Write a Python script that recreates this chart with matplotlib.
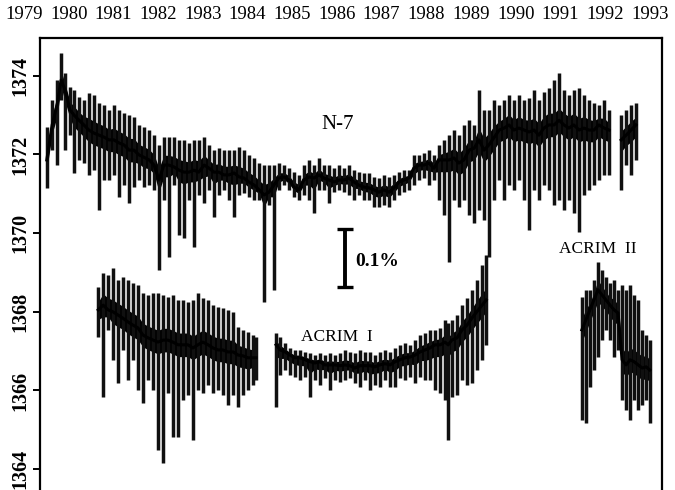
import numpy as np
import matplotlib
matplotlib.use("Agg")
import matplotlib.pyplot as plt
from matplotlib.transforms import blended_transform_factory

plt.rcParams['font.family'] = ['Liberation Serif', 'DejaVu Serif']

# year labels along the top
years = list(range(1979, 1994))
yticks = [1364, 1366, 1368, 1370, 1372, 1374]

# Nimbus-7 (N-7): time, upper noise, running level, lower noise / dropouts
n7_t = [1979.51, 1979.63, 1979.74, 1979.83, 1979.92, 1980.03, 1980.12, 1980.23, 1980.34, 1980.45,
        1980.57, 1980.68, 1980.79, 1980.90, 1981.01, 1981.13, 1981.24, 1981.35, 1981.46, 1981.57,
        1981.68, 1981.80, 1981.91, 1982.02, 1982.13, 1982.24, 1982.36, 1982.47, 1982.58, 1982.69,
        1982.80, 1982.91, 1983.03, 1983.14, 1983.25, 1983.36, 1983.47, 1983.59, 1983.70, 1983.81,
        1983.92, 1984.03, 1984.15, 1984.26, 1984.37, 1984.48, 1984.59, 1984.70, 1984.82, 1984.93,
        1985.04, 1985.15, 1985.26, 1985.38, 1985.49, 1985.60, 1985.71, 1985.82, 1985.94, 1986.05,
        1986.16, 1986.27, 1986.38, 1986.49, 1986.61, 1986.72, 1986.83, 1986.94, 1987.05, 1987.17,
        1987.28, 1987.39, 1987.50, 1987.61, 1987.72, 1987.84, 1987.95, 1988.06, 1988.17, 1988.28,
        1988.40, 1988.51, 1988.62, 1988.73, 1988.84, 1988.96, 1989.07, 1989.18, 1989.29, 1989.40,
        1989.51, 1989.63, 1989.74, 1989.85, 1989.96, 1990.07, 1990.19, 1990.30, 1990.41, 1990.52,
        1990.63, 1990.74, 1990.86, 1990.97, 1991.08, 1991.19, 1991.30, 1991.42, 1991.53, 1991.64,
        1991.75, 1991.86, 1991.98, 1992.09, 1992.36, 1992.47, 1992.58, 1992.69]
n7_hi = [1372.70, 1373.38, 1373.89, 1374.58, 1374.07, 1373.71, 1373.64, 1373.46, 1373.38, 1373.56,
         1373.51, 1373.31, 1373.26, 1373.13, 1373.26, 1373.13, 1373.05, 1373.00, 1372.95, 1372.75,
         1372.70, 1372.62, 1372.49, 1372.24, 1372.44, 1372.44, 1372.44, 1372.37, 1372.37, 1372.29,
         1372.37, 1372.37, 1372.44, 1372.24, 1372.11, 1372.16, 1372.11, 1372.11, 1372.11, 1372.19,
         1372.11, 1371.99, 1371.91, 1371.78, 1371.73, 1371.73, 1371.73, 1371.78, 1371.73, 1371.65,
         1371.55, 1371.48, 1371.73, 1371.86, 1371.73, 1371.91, 1371.73, 1371.73, 1371.65, 1371.73,
         1371.65, 1371.73, 1371.60, 1371.55, 1371.53, 1371.53, 1371.43, 1371.40, 1371.48, 1371.43,
         1371.48, 1371.55, 1371.60, 1371.60, 1371.99, 1371.99, 1372.04, 1372.11, 1371.99, 1372.24,
         1372.37, 1372.49, 1372.62, 1372.49, 1372.75, 1372.87, 1372.75, 1373.64, 1373.13, 1373.13,
         1373.38, 1373.26, 1373.38, 1373.51, 1373.38, 1373.51, 1373.38, 1373.43, 1373.64, 1373.38,
         1373.59, 1373.69, 1373.89, 1374.07, 1373.64, 1373.51, 1373.64, 1373.69, 1373.51, 1373.38,
         1373.31, 1373.26, 1373.38, 1373.13, 1373.00, 1373.13, 1373.26, 1373.31]
n7_mid = [1371.86, 1372.75, 1373.26, 1373.89, 1373.64, 1373.13, 1373.00, 1372.87, 1372.75, 1372.62,
          1372.54, 1372.49, 1372.44, 1372.37, 1372.37, 1372.29, 1372.24, 1372.11, 1372.11, 1371.99,
          1371.93, 1371.86, 1371.73, 1371.35, 1371.73, 1371.73, 1371.68, 1371.60, 1371.55, 1371.55,
          1371.60, 1371.55, 1371.73, 1371.65, 1371.55, 1371.55, 1371.48, 1371.48, 1371.53, 1371.43,
          1371.40, 1371.30, 1371.22, 1371.10, 1370.97, 1371.04, 1371.22, 1371.40, 1371.43, 1371.35,
          1371.17, 1371.10, 1371.35, 1371.43, 1371.40, 1371.48, 1371.40, 1371.35, 1371.30, 1371.35,
          1371.35, 1371.40, 1371.30, 1371.22, 1371.17, 1371.15, 1371.10, 1371.04, 1371.10, 1371.04,
          1371.15, 1371.30, 1371.35, 1371.40, 1371.65, 1371.73, 1371.73, 1371.78, 1371.65, 1371.86,
          1371.86, 1371.86, 1371.91, 1371.78, 1371.86, 1372.11, 1372.16, 1372.37, 1372.11, 1372.24,
          1372.42, 1372.62, 1372.67, 1372.75, 1372.62, 1372.67, 1372.62, 1372.57, 1372.62, 1372.49,
          1372.67, 1372.75, 1372.75, 1372.87, 1372.75, 1372.67, 1372.75, 1372.62, 1372.67, 1372.62,
          1372.62, 1372.75, 1372.67, 1372.62, 1372.37, 1372.49, 1372.62, 1372.75]
n7_lo = [1371.15, 1372.11, 1371.73, 1373.38, 1372.11, 1372.49, 1371.53, 1371.86, 1371.78, 1371.48,
         1371.60, 1370.59, 1371.35, 1371.35, 1371.48, 1370.92, 1371.22, 1370.76, 1371.17, 1371.35,
         1371.17, 1371.22, 1371.10, 1369.06, 1370.84, 1369.40, 1371.22, 1369.95, 1369.88, 1370.84,
         1369.65, 1370.97, 1370.76, 1371.10, 1370.41, 1370.97, 1371.10, 1370.84, 1370.41, 1370.97,
         1371.02, 1370.92, 1370.84, 1370.84, 1368.25, 1370.71, 1368.56, 1371.10, 1371.22, 1371.10,
         1370.92, 1370.84, 1370.97, 1370.84, 1370.51, 1371.10, 1371.10, 1370.76, 1371.04, 1371.10,
         1371.04, 1370.97, 1370.84, 1370.97, 1370.84, 1370.84, 1370.66, 1370.66, 1370.71, 1370.66,
         1370.84, 1370.97, 1371.04, 1371.10, 1371.22, 1371.35, 1371.40, 1371.22, 1371.35, 1370.84,
         1370.46, 1369.27, 1370.84, 1370.66, 1370.84, 1370.46, 1370.26, 1370.59, 1370.34, 1369.40,
         1370.84, 1371.35, 1370.84, 1371.22, 1371.10, 1371.35, 1370.84, 1370.08, 1371.10, 1370.84,
         1371.22, 1371.10, 1370.71, 1370.84, 1370.59, 1370.84, 1370.51, 1370.03, 1370.97, 1371.10,
         1371.22, 1371.35, 1371.48, 1371.48, 1371.10, 1371.73, 1371.48, 1371.86]

# ACRIM I
a1_t = [1980.66, 1980.77, 1980.88, 1980.99, 1981.10, 1981.21, 1981.33, 1981.44, 1981.55, 1981.66,
        1981.77, 1981.89, 1982.00, 1982.11, 1982.22, 1982.33, 1982.45, 1982.56, 1982.67, 1982.78,
        1982.89, 1983.00, 1983.12, 1983.23, 1983.34, 1983.45, 1983.56, 1983.68, 1983.79, 1983.90,
        1984.01, 1984.12, 1984.19,
        1984.64, 1984.73, 1984.84, 1984.95, 1985.06, 1985.17, 1985.29, 1985.40, 1985.51, 1985.62,
        1985.73, 1985.85, 1985.96, 1986.07, 1986.18, 1986.29, 1986.40, 1986.52, 1986.63, 1986.74,
        1986.85, 1986.96, 1987.08, 1987.19, 1987.30, 1987.41, 1987.52, 1987.64, 1987.75, 1987.86,
        1987.97, 1988.08, 1988.19, 1988.31, 1988.42, 1988.49, 1988.57, 1988.69, 1988.80, 1988.91,
        1989.02, 1989.13, 1989.25, 1989.34]
a1_hi = [1368.63, 1368.99, 1368.94, 1369.11, 1368.81, 1368.88, 1368.81, 1368.73, 1368.68, 1368.48,
         1368.43, 1368.48, 1368.48, 1368.43, 1368.38, 1368.43, 1368.30, 1368.30, 1368.25, 1368.30,
         1368.48, 1368.35, 1368.30, 1368.17, 1368.12, 1368.10, 1368.05, 1368.00, 1367.61, 1367.54,
         1367.49, 1367.41, 1367.36,
         1367.46, 1367.36, 1367.21, 1367.08, 1367.03, 1367.03, 1366.98, 1366.95, 1366.90, 1366.95,
         1366.90, 1366.95, 1366.90, 1366.95, 1367.03, 1366.98, 1366.95, 1367.03, 1366.98, 1366.98,
         1366.90, 1366.98, 1367.03, 1366.98, 1367.08, 1367.16, 1367.21, 1367.16, 1367.28, 1367.41,
         1367.46, 1367.54, 1367.54, 1367.59, 1367.79, 1367.71, 1367.79, 1367.92, 1368.17, 1368.35,
         1368.56, 1368.81, 1369.19, 1369.45]
a1_mid = [1368.05, 1368.17, 1368.05, 1368.00, 1367.92, 1367.84, 1367.74, 1367.66, 1367.59, 1367.41,
          1367.34, 1367.28, 1367.23, 1367.28, 1367.28, 1367.23, 1367.16, 1367.16, 1367.16, 1367.08,
          1367.16, 1367.23, 1367.16, 1367.08, 1367.03, 1367.03, 1366.98, 1366.98, 1366.90, 1366.88,
          1366.83, 1366.83, 1366.83,
          1367.16, 1367.03, 1366.98, 1366.90, 1366.83, 1366.83, 1366.78, 1366.73, 1366.70, 1366.73,
          1366.65, 1366.65, 1366.65, 1366.63, 1366.65, 1366.63, 1366.57, 1366.63, 1366.63, 1366.63,
          1366.60, 1366.65, 1366.68, 1366.65, 1366.73, 1366.78, 1366.83, 1366.85, 1366.90, 1366.98,
          1367.03, 1367.08, 1367.16, 1367.16, 1367.23, 1367.16, 1367.28, 1367.34, 1367.54, 1367.66,
          1367.84, 1368.00, 1368.17, 1368.30]
a1_lo = [1367.36, 1365.84, 1367.54, 1366.78, 1366.19, 1367.03, 1366.27, 1366.78, 1366.01, 1365.68,
         1366.27, 1366.01, 1364.48, 1364.15, 1365.94, 1364.82, 1364.82, 1365.76, 1365.89, 1364.74,
         1366.01, 1365.94, 1366.14, 1365.94, 1366.01, 1365.89, 1365.63, 1365.89, 1365.58, 1365.89,
         1366.01, 1366.14, 1366.27,
         1365.58, 1366.40, 1366.52, 1366.40, 1366.34, 1366.27, 1366.34, 1365.84, 1366.27, 1366.14,
         1366.32, 1366.01, 1366.27, 1366.22, 1366.27, 1366.32, 1366.19, 1366.09, 1366.27, 1366.01,
         1366.14, 1366.09, 1366.27, 1366.09, 1366.09, 1366.32, 1366.27, 1366.34, 1366.19, 1366.34,
         1366.27, 1366.27, 1366.01, 1365.94, 1365.76, 1364.74, 1365.84, 1365.89, 1366.27, 1366.14,
         1366.19, 1366.52, 1366.78, 1367.16]

# ACRIM II
a2_t = [1991.48, 1991.57, 1991.66, 1991.75, 1991.84, 1991.93, 1992.02, 1992.11, 1992.20, 1992.29,
        1992.38, 1992.47, 1992.56, 1992.65, 1992.74, 1992.83, 1992.92, 1993.00]
a2_hi = [1368.38, 1368.56, 1368.56, 1368.81, 1369.27, 1369.06, 1368.88, 1368.73, 1368.81, 1368.56,
         1368.68, 1368.56, 1368.68, 1368.43, 1368.30, 1367.54, 1367.41, 1367.28]
a2_mid = [1367.54, 1367.79, 1368.05, 1368.30, 1368.56, 1368.43, 1368.30, 1368.17, 1368.05, 1367.97,
          1366.78, 1366.65, 1366.78, 1366.73, 1366.65, 1366.57, 1366.60, 1366.52]
a2_lo = [1365.25, 1365.17, 1366.09, 1366.52, 1366.85, 1367.28, 1367.54, 1367.28, 1366.85, 1367.03,
         1365.76, 1365.50, 1365.25, 1365.76, 1365.50, 1365.63, 1365.76, 1365.17]


def draw_trace(ax, t, hi, mid, lo):
    assert len(t) == len(hi) == len(mid) == len(lo)
    t = np.array(t); hi = np.array(hi); mid = np.array(mid); lo = np.array(lo)
    # dark core of the daily scatter around the running level
    core_hi = mid + np.minimum(0.35 * (hi - mid), 0.3)
    core_lo = mid - np.minimum(0.35 * (mid - lo), 0.3)
    # break the record where there is a data gap
    cuts = np.where(np.diff(t) > 0.2)[0] + 1
    for idx in np.split(np.arange(len(t)), cuts):
        ax.vlines(t[idx], lo[idx], hi[idx], color='#101010', lw=2.5)
        ax.fill_between(t[idx], core_lo[idx], core_hi[idx], color='black', lw=0)
        ax.plot(t[idx], mid[idx], color='black', lw=2.2, solid_joinstyle='round')


fig = plt.figure(figsize=(6.75, 4.9), dpi=100)
ax = fig.add_axes([40 / 675, 0, 622 / 675, 452 / 490])

draw_trace(ax, n7_t, n7_hi, n7_mid, n7_lo)
draw_trace(ax, a1_t, a1_hi, a1_mid, a1_lo)
draw_trace(ax, a2_t, a2_hi, a2_mid, a2_lo)

ax.set_xlim(1979.358, 1993.273)
ax.set_ylim(1363.47, 1374.96)

# 0.1% scale bar
ax.errorbar([1986.18], [1369.365], yerr=[0.735], fmt='none', ecolor='black',
            elinewidth=2.8, capsize=5.8, capthick=2.4)
ax.text(1986.40, 1369.27, '0.1%', fontsize=14, fontweight='bold', ha='left', va='center')

ax.text(1986.02, 1372.75, 'N-7', fontsize=15, ha='center', va='center')
ax.text(1986.00, 1367.36, 'ACRIM  I', fontsize=12.5, ha='center', va='center')
ax.text(1991.84, 1369.60, 'ACRIM  II', fontsize=12.5, ha='center', va='center')

# axis styling
for side in ['left', 'right', 'top']:
    ax.spines[side].set_linewidth(1.6)
ax.spines['bottom'].set_visible(False)
ax.set_xticks([])
ax.set_yticks(yticks)
ax.set_yticklabels([str(v) for v in yticks])
ax.tick_params(axis='y', direction='out', length=5, width=1.4, pad=2,
               labelsize=14.5, labelrotation=90)
for lab in ax.get_yticklabels():
    lab.set_fontweight('bold')
    lab.set_va('center')

trans = blended_transform_factory(ax.transData, ax.transAxes)
for yr in years:
    ax.text(yr, 1.053, str(yr), transform=trans, fontsize=13.5,
            ha='center', va='center', clip_on=False)

fig.savefig('out.png', dpi=100)
